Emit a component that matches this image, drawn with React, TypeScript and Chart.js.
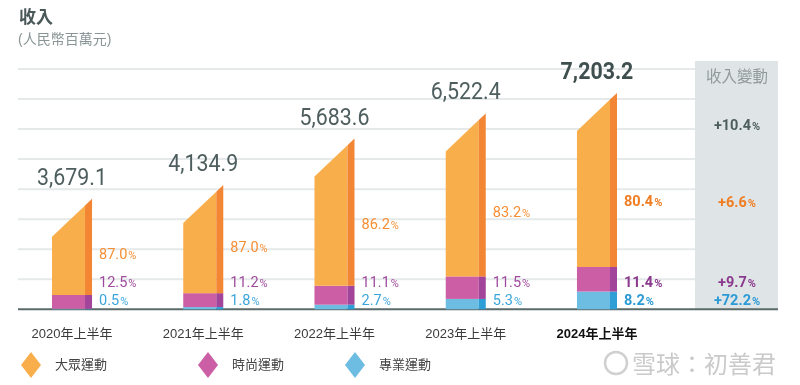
import React, { useEffect, useRef } from 'react';
import { Chart, registerables } from 'chart.js';

Chart.register(...registerables);

// ---------- data ----------
const categories = ['2020年上半年', '2021年上半年', '2022年上半年', '2023年上半年', '2024年上半年'];
const totals = [3679.1, 4134.9, 5683.6, 6522.4, 7203.2];
const totalLabels = ['3,679.1', '4,134.9', '5,683.6', '6,522.4', '7,203.2'];
const massValues = [3200.8, 3597.4, 4899.3, 5426.6, 5791.4];
const fashionValues = [459.9, 463.1, 630.9, 750.1, 821.2];
const proValues = [18.4, 74.4, 153.5, 345.7, 590.7];
const massShare = ['87.0', '87.0', '86.2', '83.2', '80.4'];
const fashionShare = ['12.5', '11.2', '11.1', '11.5', '11.4'];
const proShare = ['0.5', '1.8', '2.7', '5.3', '8.2'];
const changeTotal = '+10.4';
const changeMass = '+6.6';
const changeFashion = '+9.7';
const changePro = '+72.2';
const seriesNames = ['大眾運動', '時尚運動', '專業運動'];
const gridValues = [1000, 2000, 3000, 4000, 5000, 6000, 7000, 8000];

// ---------- styles ----------
const CJK = "'Liberation Sans', 'Noto Sans CJK TC', sans-serif";
const NUM = "'Roboto', 'Liberation Sans', sans-serif";
const PCT = "'Roboto', 'Liberation Sans', sans-serif";
const front = ['#6DBDE2', '#CC5EA6', '#F9AE4C'];
const side = ['#2E9ED7', '#A1449A', '#F28634'];
const labelColor = ['#3BA5DB', '#A04A9E', '#F68E33'];
const labelBold = ['#2B9AD5', '#8B3A8E', '#F07D22'];
const legendColor = ['#F9AE4C', '#CC5EA6', '#6DBDE2'];

function drawPct(ctx: CanvasRenderingContext2D, x: number, y: number, num: string, color: string, bold: boolean, size: number, align: 'left' | 'center') {
  const w = bold ? 'bold ' : '';
  ctx.font = `${w}${size}px ${PCT}`;
  const nw = ctx.measureText(num).width;
  const ps = size * 0.76;
  ctx.font = `${w}${ps}px ${PCT}`;
  const pw = ctx.measureText('%').width;
  const start = align === 'center' ? x - (nw + pw + 1) / 2 : x;
  const baseline = y + size * 0.36;
  ctx.fillStyle = color;
  ctx.textAlign = 'left';
  ctx.textBaseline = 'alphabetic';
  ctx.font = `${w}${size}px ${PCT}`;
  ctx.fillText(num, start, baseline);
  ctx.font = `${w}${ps}px ${PCT}`;
  ctx.fillText('%', start + nw + 1, baseline);
}

export default function App() {
  const ref = useRef<HTMLCanvasElement>(null);

  useEffect(() => {
    document.body.style.margin = '0';
    const canvas = ref.current!;
    const target = { left: 6.4, right: 662.6, top: 69, bottom: 309.3 };

    const plugin = {
      id: 'custom3d',
      beforeDatasetsDraw(chart: any) {
        const ctx: CanvasRenderingContext2D = chart.ctx;
        const ys = chart.scales.y;
        ctx.save();
        // title
        ctx.fillStyle = '#4B5858';
        ctx.textAlign = 'left';
        ctx.textBaseline = 'middle';
        ctx.font = `bold 17px ${CJK}`;
        ctx.fillText('收入', 19, 18);
        ctx.fillStyle = '#8A9595';
        ctx.font = `14px ${CJK}`;
        ctx.fillText('(人民幣百萬元)', 18, 40);
        // gridlines
        ctx.strokeStyle = '#E5E9E9';
        ctx.lineWidth = 2;
        gridValues.forEach((v) => {
          const y = ys.getPixelForValue(v);
          ctx.beginPath();
          ctx.moveTo(18, y);
          ctx.lineTo(778, y);
          ctx.stroke();
        });
        // change panel
        const base = ys.getPixelForValue(0);
        ctx.fillStyle = '#DFE5E6';
        ctx.fillRect(695, 61, 83, base - 61);
        ctx.fillStyle = '#929A9A';
        ctx.textAlign = 'center';
        ctx.font = `15.5px ${CJK}`;
        ctx.fillText('收入變動', 737, 78);
        // baseline
        ctx.strokeStyle = '#5B6A6A';
        ctx.lineWidth = 2;
        ctx.beginPath();
        ctx.moveTo(18, base);
        ctx.lineTo(778, base);
        ctx.stroke();
        ctx.restore();
      },
      afterDatasetsDraw(chart: any) {
        const ctx: CanvasRenderingContext2D = chart.ctx;
        const ys = chart.scales.y;
        const zero = ys.getPixelForValue(0);
        ctx.save();
        for (let j = 0; j < categories.length; j++) {
          let R = 0;
          let X = 0;
          let peak = 0;
          for (let i = 0; i < 3; i++) {
            const el = chart.getDatasetMeta(i).data[j];
            const { x, y, base, width } = el.getProps(['x', 'y', 'base', 'width'], true);
            const L = x - width / 2;
            R = x + width / 2;
            X = x;
            const S = R - width * 0.175;
            if (i < 2) {
              ctx.fillStyle = front[i];
              ctx.fillRect(L, y, S - L, base - y);
              ctx.fillStyle = side[i];
              ctx.fillRect(S, y, R - S, base - y);
            } else {
              peak = y;
              const slant = width * 0.95;
              const yS = y + (slant * (R - S)) / (R - L);
              ctx.fillStyle = front[i];
              ctx.beginPath();
              ctx.moveTo(L, base);
              ctx.lineTo(L, y + slant);
              ctx.lineTo(S, yS);
              ctx.lineTo(S, base);
              ctx.closePath();
              ctx.fill();
              ctx.fillStyle = side[i];
              ctx.beginPath();
              ctx.moveTo(S, base);
              ctx.lineTo(S, yS);
              ctx.lineTo(R, y);
              ctx.lineTo(R, base);
              ctx.closePath();
              ctx.fill();
            }
          }
          const bold = j === categories.length - 1;
          // total label (condensed)
          ctx.save();
          ctx.fillStyle = bold ? '#3F4F4F' : '#4E5E5E';
          ctx.textAlign = 'center';
          ctx.textBaseline = 'alphabetic';
          ctx.font = `${bold ? 'bold ' : ''}24px ${NUM}`;
          ctx.translate(X, peak - 14);
          ctx.scale(0.89, 1);
          ctx.fillText(totalLabels[j], 0, 0);
          ctx.restore();
          // share labels
          const lx = R + 7;
          const cMass = bold ? labelBold[2] : labelColor[2];
          const cFash = bold ? labelBold[1] : labelColor[1];
          const cPro = bold ? labelBold[0] : labelColor[0];
          const yMass = ys.getPixelForValue(totals[j] * 0.5);
          drawPct(ctx, lx, yMass, massShare[j], cMass, bold, 14.5, 'left');
          drawPct(ctx, lx, zero - 27.5, fashionShare[j], cFash, bold, 14.5, 'left');
          drawPct(ctx, lx, zero - 10, proShare[j], cPro, bold, 14.5, 'left');
          if (bold) {
            drawPct(ctx, 737, chart.chartArea.top + 56, changeTotal, '#4D5D5D', true, 14.5, 'center');
            drawPct(ctx, 737, yMass + 1, changeMass, labelBold[2], true, 14.5, 'center');
            drawPct(ctx, 737, zero - 27.5, changeFashion, labelBold[1], true, 14.5, 'center');
            drawPct(ctx, 737, zero - 10, changePro, labelBold[0], true, 14.5, 'center');
          }
        }
        // legend
        const legendX = [31, 208, 355];
        seriesNames.forEach((name, i) => {
          const cx = legendX[i];
          const cy = 365;
          ctx.fillStyle = legendColor[i];
          ctx.beginPath();
          ctx.moveTo(cx, cy - 13);
          ctx.lineTo(cx + 10, cy);
          ctx.lineTo(cx, cy + 13);
          ctx.lineTo(cx - 10, cy);
          ctx.closePath();
          ctx.fill();
          ctx.fillStyle = '#444444';
          ctx.textAlign = 'left';
          ctx.textBaseline = 'middle';
          ctx.font = `13px ${CJK}`;
          ctx.fillText(name, cx + 24, cy);
        });
        // watermark
        ctx.strokeStyle = '#D0D0D0';
        ctx.lineWidth = 2.5;
        ctx.beginPath();
        ctx.arc(616, 363, 11, 0, Math.PI * 2);
        ctx.stroke();
        ctx.fillStyle = '#CACACA';
        ctx.textAlign = 'left';
        ctx.textBaseline = 'middle';
        ctx.font = `24px 'Noto Sans CJK TC', sans-serif`;
        ctx.fillText('雪球：初善君', 632, 364);
        ctx.restore();
      },
    };

    const hidden = { backgroundColor: 'rgba(0,0,0,0)', borderColor: 'rgba(0,0,0,0)', borderWidth: 0 };
    const chart = new Chart(canvas, {
      type: 'bar',
      data: {
        labels: categories,
        datasets: [
          { label: seriesNames[2], data: proValues, ...hidden },
          { label: seriesNames[1], data: fashionValues, ...hidden },
          { label: seriesNames[0], data: massValues, ...hidden },
        ],
      },
      options: {
        responsive: false,
        animation: false,
        events: [],
        layout: { padding: { left: target.left, right: 800 - target.right, top: target.top, bottom: 51 } },
        datasets: {
          bar: {
            barPercentage: 0.305,
            categoryPercentage: 1,
          },
        },
        scales: {
          x: {
            stacked: true,
            grid: { display: false },
            border: { display: false },
            ticks: {
              padding: 9,
              maxRotation: 0,
              autoSkip: false,
              color: (c: any) => (c.index === 4 ? '#111111' : '#3A3A3A'),
              font: (c: any) => ({ family: CJK, size: 13, weight: c.index === 4 ? 'bold' : 'normal' }),
            },
          },
          y: { stacked: true, display: false, min: 0, max: 8000 },
        },
        plugins: {
          colors: { enabled: false },
          legend: { display: false },
          tooltip: { enabled: false },
          title: { display: false },
        },
      } as any,
      plugins: [plugin],
    });

    const a = chart.chartArea;
    const p: any = (chart.options.layout as any).padding;
    p.bottom += a.bottom - target.bottom;
    p.top += target.top - a.top;
    p.left += target.left - a.left;
    p.right += a.right - target.right;
    chart.update();

    return () => chart.destroy();
  }, []);

  return (
    <div style={{ width: 800, height: 385, background: '#ffffff' }}>
      <canvas ref={ref} width={800} height={385} style={{ display: 'block', width: 800, height: 385 }} />
    </div>
  );
}
